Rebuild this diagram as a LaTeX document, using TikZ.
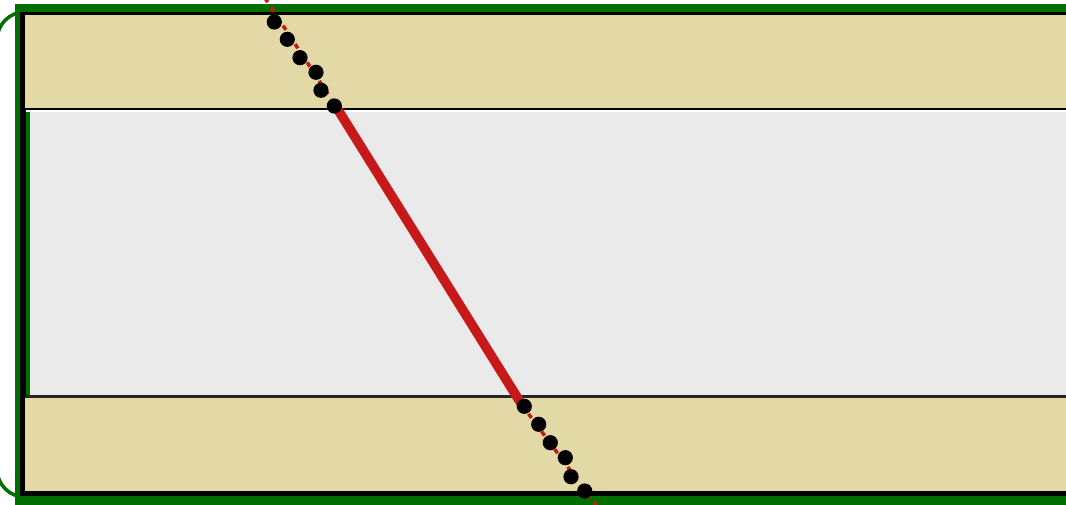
\documentclass[tikz,border=0pt]{standalone}
\usetikzlibrary{calc}
\definecolor{frameGreen}{HTML}{006E00}
\definecolor{bandTan}{HTML}{E3D9A6}
\definecolor{coreGray}{HTML}{EAEAEA}
\definecolor{lineRed}{HTML}{C8191A}
\tikzset{
  dotmark/.style={fill=black, draw=none},
  dashext/.style={draw=lineRed, line width=3.5pt, dash pattern=on 5pt off 6pt},
  mainline/.style={draw=lineRed, line width=9.5pt},
}
\begin{document}
\begin{tikzpicture}[x=1pt,y=-1pt]
\useasboundingbox (0,0) rectangle (1066,505);
\clip (0,0) rectangle (1066,505);
% outer rounded green curve
\draw[frameGreen, line width=3.5pt, rounded corners=28pt] (-3,12) rectangle (1120,497);
% frame
\fill[frameGreen] (15,4) rectangle (1080,520);
\fill[black] (20,12) rectangle (1080,496);
\fill[bandTan] (25,15.5) rectangle (1080,491);
% core region
\fill[black] (25,108) rectangle (1080,110);
\fill[white] (25,110) rectangle (1080,112);
\fill[black] (25,110) rectangle (26,395);
\fill[frameGreen] (26,112) rectangle (29.5,395);
\fill[coreGray] (29.5,112) rectangle (1080,395);
\fill[black!85] (25,395) rectangle (1080,398);
% red line
\coordinate (topend) at (265,-2);
\coordinate (a) at (335,105);
\coordinate (b) at (522,405);
\coordinate (botend) at (598,508);
\draw[dashext] (topend) -- (a);
\draw[dashext] (b) -- (botend);
\draw[mainline] (a) -- (b);
% dots
\foreach \p in {(274.3,22),(287.3,39.3),(300,57.7),(316,72.3),(321,90.3),(334.3,106),
                (524.3,406.3),(538.7,424.3),(550.3,442.7),(565.3,457.7),(571,476.7),(584.7,491)}
  \fill[dotmark] \p circle (7.6);
\end{tikzpicture}
\end{document}
